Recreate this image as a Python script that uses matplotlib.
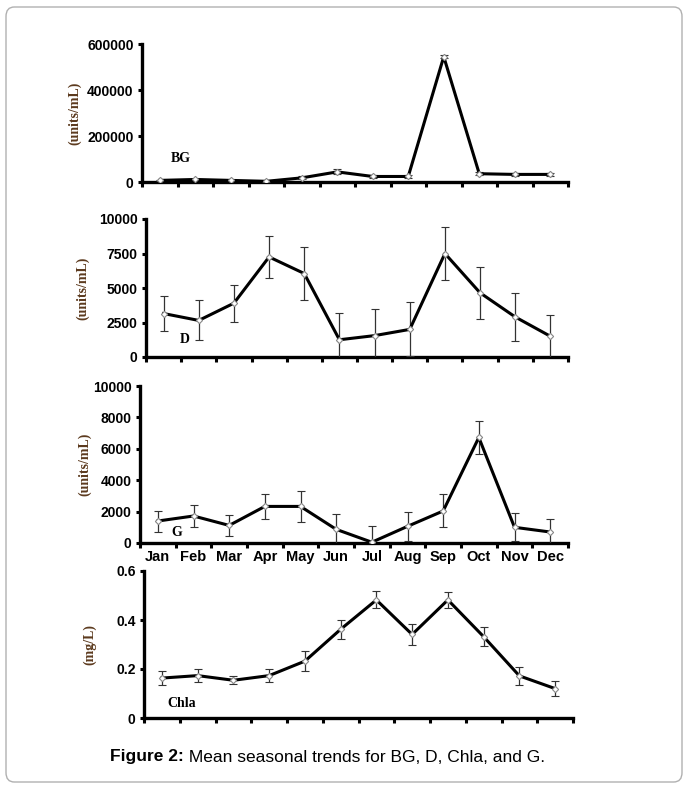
import matplotlib
matplotlib.use("Agg")
import matplotlib.pyplot as plt
from matplotlib.patches import FancyBboxPatch
from matplotlib.text import Annotation

# ===== Data ===================================================================

months = ["Jan", "Feb", "Mar", "Apr", "May", "Jun",
          "Jul", "Aug", "Sep", "Oct", "Nov", "Dec"]

bg = [7000, 11000, 7000, 3000, 18000, 44000,
      24000, 24000, 545000, 36000, 33000, 33000]
bgErr = [3000, 4000, 3000, 2000, 6000, 11000,
         6000, 6000, 7000, 6000, 5000, 5000]

d = [3150, 2650, 3900, 7250, 6050, 1250,
     1550, 2000, 7500, 4650, 2900, 1500]
dErr = [1300, 1450, 1350, 1500, 1950, 1950,
        1900, 1950, 1950, 1900, 1750, 1550]

g = [1400, 1720, 1120, 2330, 2330, 870,
     50, 1060, 2040, 6720, 1000, 700]
gErr = [670, 730, 680, 800, 970, 980,
        1050, 940, 1050, 1050, 900, 830]

chla = [0.163, 0.173, 0.154, 0.173, 0.232, 0.362,
        0.482, 0.341, 0.482, 0.332, 0.172, 0.12]
chlaErr = [0.027, 0.028, 0.017, 0.027, 0.040, 0.040,
           0.035, 0.042, 0.034, 0.039, 0.036, 0.030]

# ===== Styling ================================================================

SANS = "Liberation Sans"
SERIF = "Liberation Serif"
LABEL_COLOR = "#5c3a1e"

fig = plt.figure(figsize=(6.88, 7.89), dpi=100)

# light rounded frame around the whole figure
frame = FancyBboxPatch((6 / 688, 7 / 789), 676 / 688, 775 / 789,
                       boxstyle="round,pad=0,rounding_size=0.012",
                       transform=fig.transFigure, fill=False,
                       edgecolor="#b0b0b0", linewidth=1.0)
fig.patches.append(frame)

x = list(range(1, 13))


def panel(rect, values, errors, ylim, yticks, ylabel, ylabelX, tag, tagPos,
          showMonths=False):
    ax = fig.add_axes(rect)
    ax.errorbar(x, values, yerr=errors, color="black", linewidth=2.2,
                ecolor="#333333", elinewidth=0.9, capsize=3, capthick=0.9,
                marker="D", markersize=3.2, markerfacecolor="white",
                markeredgecolor="#888888", markeredgewidth=0.8,
                zorder=3)
    ax.set_xlim(0.5, 12.5)
    ax.set_ylim(*ylim)
    ax.set_yticks(yticks)
    ax.set_yticklabels([str(t) for t in yticks], fontfamily=SANS,
                       fontweight="bold", fontsize=10)
    ax.set_xticks([i + 0.5 for i in range(13)], minor=True)
    ax.set_xticks(x)
    if showMonths:
        ax.set_xticklabels(months, fontfamily=SANS, fontweight="bold",
                           fontsize=10.5)
    else:
        ax.set_xticklabels([])
    ax.tick_params(axis="x", which="major", length=0, pad=5)
    ax.tick_params(axis="x", which="minor", length=3.5, width=2.2,
                   direction="out")
    ax.tick_params(axis="y", length=3, width=2.2, direction="out", pad=3)
    for side in ["top", "right"]:
        ax.spines[side].set_visible(False)
    for side in ["left", "bottom"]:
        ax.spines[side].set_linewidth(2.4)
    fig.text(ylabelX / 688, rect[1] + rect[3] * 0.5, ylabel,
             rotation=90, ha="center", va="center", fontfamily=SERIF,
             fontweight="bold", fontsize=10, color=LABEL_COLOR)
    ax.text(tagPos[0], tagPos[1], tag, fontfamily=SERIF, fontweight="bold",
            fontsize=10, ha="left", va="center")
    return ax


# ===== Panels =================================================================

panel([142 / 688, 607 / 789, 426 / 688, 138 / 789], bg, bgErr,
      (0, 600000), [0, 200000, 400000, 600000], "(units/mL)", 75,
      "BG", (1.3, 104000))

panel([146 / 688, 432 / 789, 422 / 688, 138 / 789], d, dErr,
      (0, 10000), [0, 2500, 5000, 7500, 10000], "(units/mL)", 83,
      "D", (1.45, 1300))

panel([140 / 688, 246 / 789, 428 / 688, 157 / 789], g, gErr,
      (0, 10000), [0, 2000, 4000, 6000, 8000, 10000], "(units/mL)", 85,
      "G", (1.38, 700), showMonths=True)

panel([144 / 688, 71 / 789, 429 / 688, 147 / 789], chla, chlaErr,
      (0, 0.6), [0, 0.2, 0.4, 0.6], "(mg/L)", 90,
      "Chla", (1.15, 0.061))

# ===== Caption ================================================================

head = fig.text(110 / 688, 1 - 757 / 789, "Figure 2:", ha="left",
                va="center", fontfamily=SANS, fontweight="bold",
                fontsize=12.5)
tail = Annotation(" Mean seasonal trends for BG, D, Chla, and G.",
                  xy=(1, 0.5), xycoords=head, ha="left", va="center",
                  fontfamily=SANS, fontsize=12.5)
fig.add_artist(tail)

fig.savefig("out.png", dpi=100)
